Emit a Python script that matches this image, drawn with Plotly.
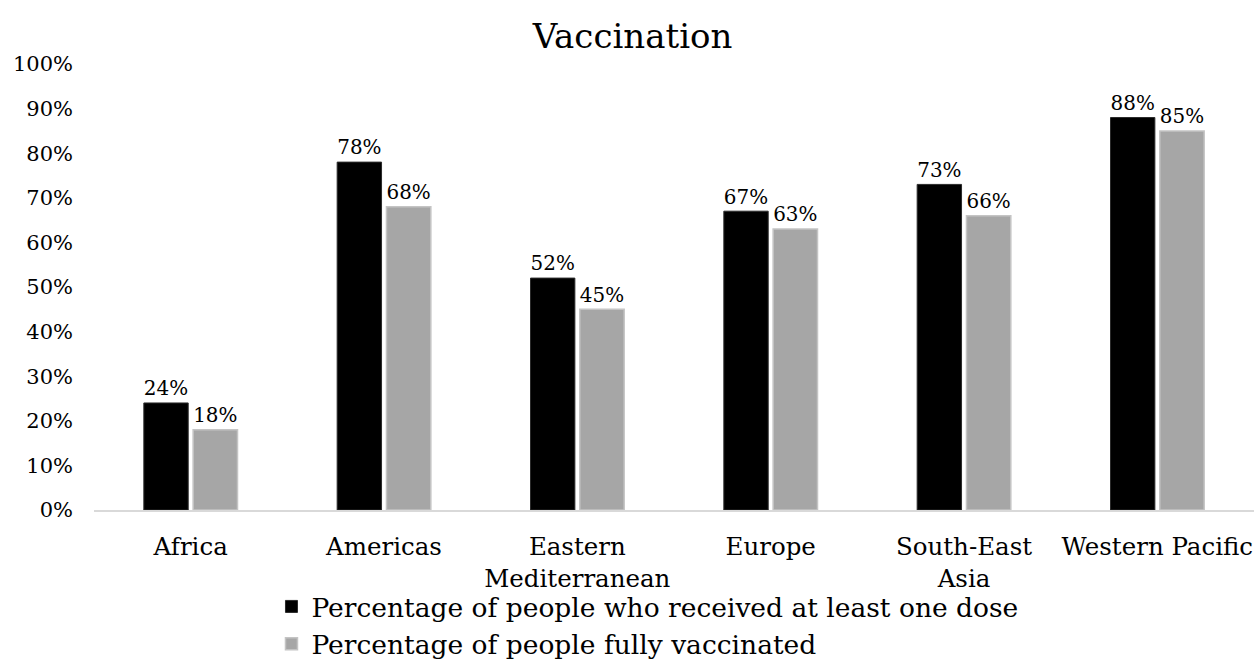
import plotly.graph_objects as go

# Regions and vaccination shares (fractions of population)
regions = ["Africa", "Americas", "Eastern<br>Mediterranean", "Europe",
           "South-East<br>Asia", "Western Pacific"]
at_least_one_dose = [0.24, 0.78, 0.52, 0.67, 0.73, 0.88]
fully_vaccinated = [0.18, 0.68, 0.45, 0.63, 0.66, 0.85]

series_names = ["Percentage of people who received at least one dose",
                "Percentage of people fully vaccinated"]
y_ticks = [i / 10 for i in range(11)]

FONT = "DejaVu Serif"

fig = go.Figure()
fig.add_trace(go.Bar(
    x=regions, y=at_least_one_dose, name=series_names[0],
    marker=dict(color="#000000", line=dict(color="#2b2b2b", width=1)),
    texttemplate="%{y:.0%}", textposition="outside",
    textfont=dict(family=FONT, size=21.5, color="#000000"),
    cliponaxis=False,
))
fig.add_trace(go.Bar(
    x=regions, y=fully_vaccinated, name=series_names[1],
    marker=dict(color="#a6a6a6", line=dict(color="#c4c4c4", width=1.5)),
    texttemplate="%{y:.0%}", textposition="outside",
    textfont=dict(family=FONT, size=21.5, color="#000000"),
    cliponaxis=False,
))

fig.update_layout(
    width=1255, height=662,
    margin=dict(l=94, r=1, t=64, b=152, autoexpand=False),
    paper_bgcolor="white", plot_bgcolor="white",
    font=dict(family=FONT, color="#000000"),
    barmode="group", bargap=0.49, bargroupgap=0.1,
    title=dict(text="Vaccination", x=0.504, xref="container", xanchor="center",
               y=1 - 36 / 662, yref="container", yanchor="middle",
               font=dict(family=FONT, size=34, color="#000000")),
    showlegend=True,
    legend=dict(orientation="v", x=0.153, xanchor="left", y=-0.163, yanchor="top",
                font=dict(family=FONT, size=26.5, color="#000000"),
                bgcolor="rgba(0,0,0,0)", tracegroupgap=0),
)
fig.update_xaxes(
    showline=True, linecolor="#d9d9d9", linewidth=1.5,
    showgrid=False, ticks="", ticklabelstandoff=14, automargin=False,
    tickfont=dict(family=FONT, size=24.5, color="#000000"),
)
fig.update_yaxes(
    range=[0, 1], tickvals=y_ticks, tickformat=".0%",
    showline=False, showgrid=False, zeroline=False, ticks="",
    ticklabelstandoff=20, automargin=False,
    tickfont=dict(family=FONT, size=21, color="#000000"),
)

fig.write_html("out.html")
